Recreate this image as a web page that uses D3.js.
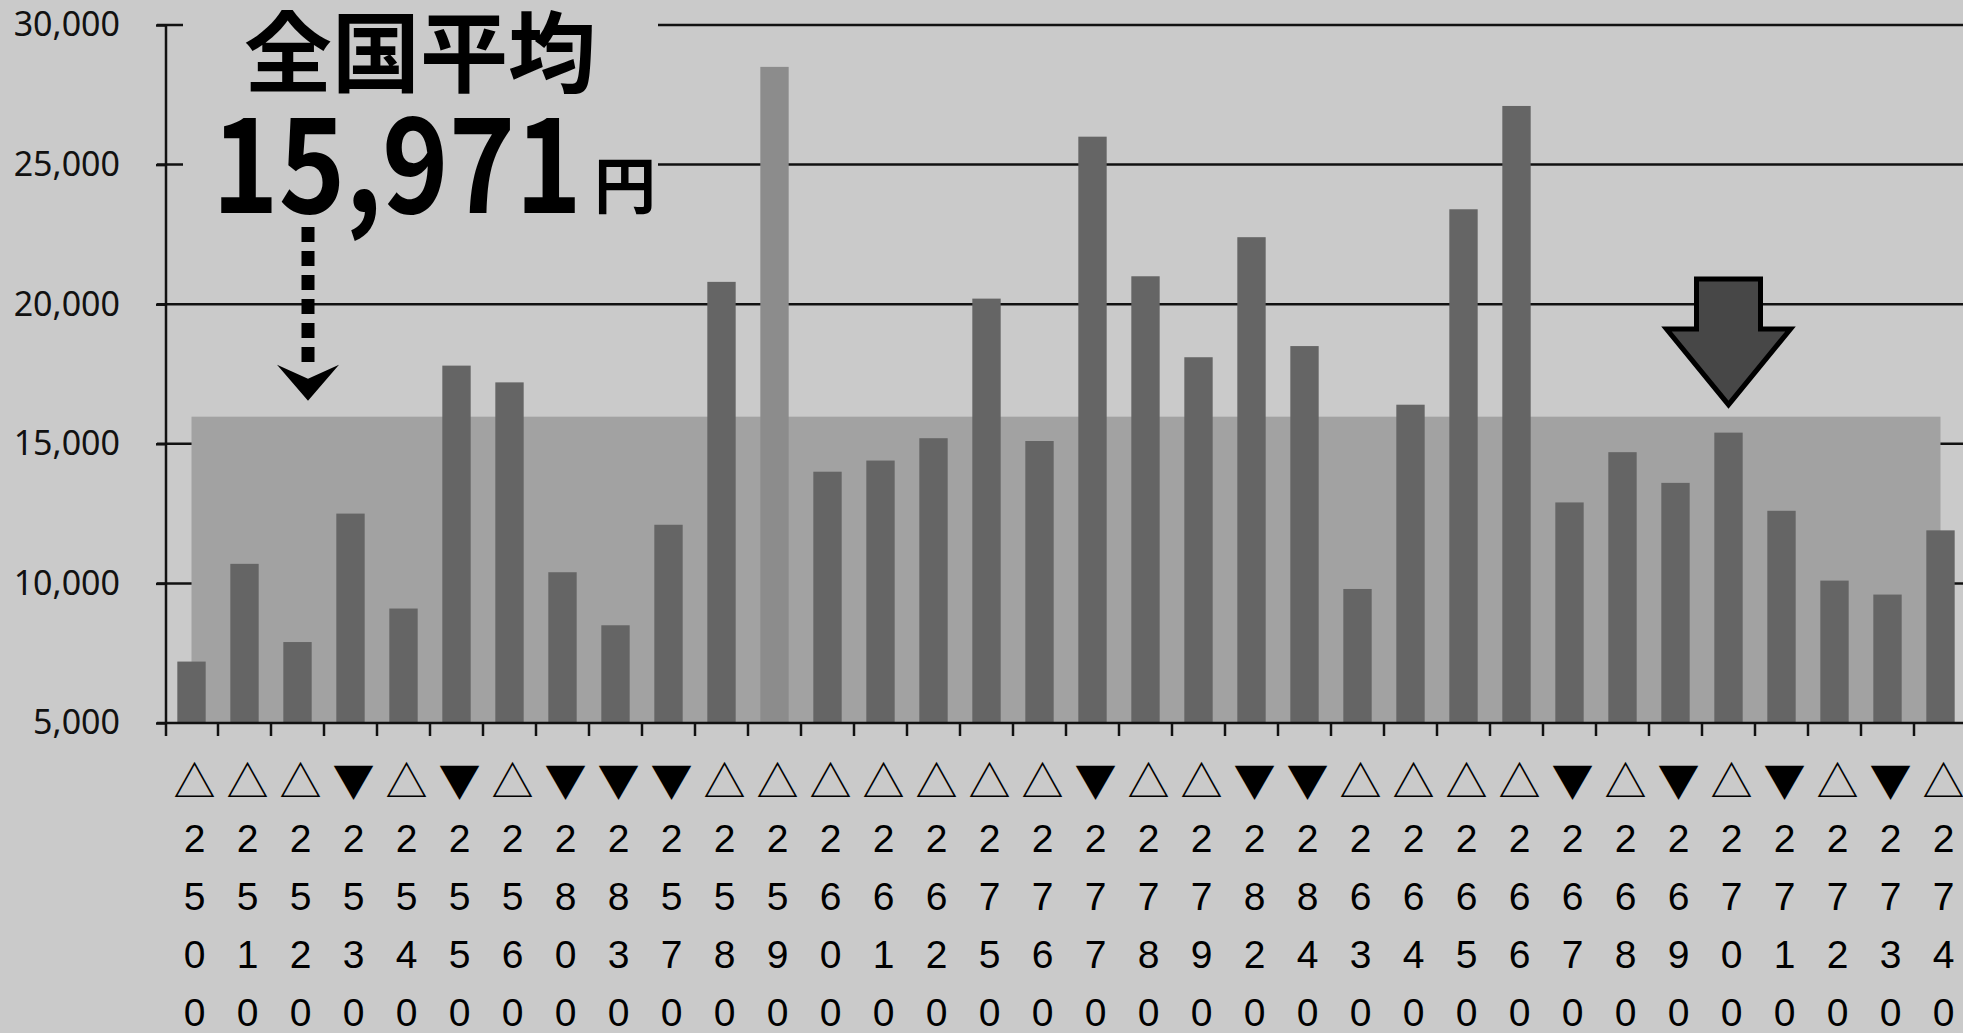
<!DOCTYPE html>
<html>
<head>
<meta charset="utf-8">
<script src="https://cdn.jsdelivr.net/npm/d3@7"></script>
<style>
  html, body { margin: 0; padding: 0; background: #cacaca; }
  svg { display: block; }
</style>
</head>
<body>
<div id="chart"></div>
<script>
// data
const categories = ["2500","2510","2520","2530","2540","2550","2560","2800","2830","2570","2580","2590","2600","2610","2620","2750","2760","2770","2780","2790","2820","2840","2630","2640","2650","2660","2670","2680","2690","2700","2710","2720","2730","2740"]
const values = [7200, 10700, 7900, 12500, 9100, 17800, 17200, 10400, 8500, 12100, 20800, 28500, 14000, 14400, 15200, 20200, 15100, 26000, 21000, 18100, 22400, 18500, 9800, 16400, 23400, 27100, 12900, 14700, 13600, 15400, 12600, 10100, 9600, 11900]
const trend = ["up","up","up","down","up","down","up","down","down","down","up","up","up","up","up","up","up","down","up","up","down","down","up","up","up","up","down","up","down","up","down","up","down","up"]
const yTicks = [5000, 10000, 15000, 20000, 25000, 30000]
const nationalAvg = 15971
const highlightCat = "2590"
const markedCat = "2700"

const width = 1963, height = 1033
const bg = "#cacaca"

const svg = d3.select("#chart")
    .append("svg")
    .attr("width", width)
    .attr("height", height)

svg.append("rect").attr("width", width).attr("height", height).attr("fill", bg)

const x = d3.scaleBand()
    .domain(categories)
    .range([165, 1967])
    .paddingInner(0.465)
    .paddingOuter(0.2325)

const y = d3.scaleLinear()
    .domain([5000, 30000])
    .range([723, 25])

const cx = d => x(d) + x.bandwidth() / 2

// gridlines
svg.append("g")
    .selectAll("line")
    .data(yTicks.slice(1))
    .enter()
    .append("line")
    .attr("x1", 157).attr("x2", width)
    .attr("y1", d => y(d)).attr("y2", d => y(d))
    .attr("stroke", "#111")
    .attr("stroke-width", 2.5)

// national average band, from first bar centre to last bar centre
svg.append("rect")
    .attr("x", cx(categories[0]))
    .attr("y", y(nationalAvg))
    .attr("width", cx(categories[categories.length - 1]) - cx(categories[0]))
    .attr("height", y(5000) - y(nationalAvg))
    .attr("fill", "#a2a2a2")

// bars
svg.append("g")
    .selectAll("rect")
    .data(categories)
    .enter()
    .append("rect")
    .attr("x", d => x(d))
    .attr("y", (d, i) => y(values[i]))
    .attr("width", x.bandwidth())
    .attr("height", (d, i) => y(5000) - y(values[i]))
    .attr("fill", d => d === highlightCat ? "#8c8c8c" : "#656565")

// axes
const yAxis = d3.axisLeft(y).tickValues(yTicks).tickSize(10).tickPadding(36).tickFormat(d3.format(","))
const gy = svg.append("g").attr("transform", "translate(166,0)").call(yAxis)
gy.select(".domain").remove()
gy.selectAll(".tick line").attr("stroke", "#111").attr("stroke-width", 2.5)
gy.selectAll("text")
    .attr("font-family", "'Noto Sans', sans-serif")
    .attr("font-size", 34)
    .attr("fill", "#111")

svg.append("line")
    .attr("x1", 166).attr("x2", 166)
    .attr("y1", y(30000)).attr("y2", 736)
    .attr("stroke", "#111").attr("stroke-width", 2.5)

const xTicks = categories.map(d => x(d) - x.step() * x.paddingInner() / 2)
svg.append("line")
    .attr("x1", 157).attr("x2", width)
    .attr("y1", y(5000)).attr("y2", y(5000))
    .attr("stroke", "#111").attr("stroke-width", 2.5)
svg.append("g")
    .selectAll("line")
    .data(xTicks.slice(1))
    .enter()
    .append("line")
    .attr("x1", d => d).attr("x2", d => d)
    .attr("y1", y(5000)).attr("y2", y(5000) + 13)
    .attr("stroke", "#111").attr("stroke-width", 2.5)

// category labels: up/down mark then digits stacked vertically
const labels = svg.append("g")
    .selectAll("g")
    .data(categories)
    .enter()
    .append("g")
    .attr("transform", d => `translate(${cx(d) + 3},0)`)

labels.append("text")
    .attr("y", 778)
    .attr("text-anchor", "middle")
    .attr("dominant-baseline", "central")
    .attr("font-family", "'Noto Sans CJK JP', sans-serif")
    .attr("font-size", 42)
    .attr("fill", "#000")
    .text((d, i) => trend[i] === "up" ? "△" : "▼")

labels.each(function (d) {
    const g = d3.select(this)
    d.split("").forEach((ch, k) => {
        g.append("text")
            .attr("y", 852 + k * 58)
            .attr("text-anchor", "middle")
            .attr("font-family", "'Liberation Sans', Arial, sans-serif")
            .attr("font-size", 39)
            .attr("fill", "#000")
            .text(ch)
    })
})

// text box that hides the top gridlines
svg.append("rect")
    .attr("x", 183).attr("y", 0)
    .attr("width", 475).attr("height", 232)
    .attr("fill", bg)

svg.append("text")
    .attr("x", 420).attr("y", 46)
    .attr("text-anchor", "middle")
    .attr("dominant-baseline", "central")
    .attr("font-family", "'Noto Sans CJK JP', sans-serif")
    .attr("font-weight", 700)
    .attr("font-size", 88)
    .attr("fill", "#000")
    .text("全国平均")

svg.append("text")
    .attr("x", 212).attr("y", 213)
    .attr("font-family", "'Noto Sans CJK JP', sans-serif")
    .attr("font-weight", 700)
    .attr("font-size", 132)
    .attr("textLength", 370)
    .attr("lengthAdjust", "spacingAndGlyphs")
    .attr("fill", "#000")
    .text(d3.format(",")(nationalAvg))

svg.append("text")
    .attr("x", 625).attr("y", 182)
    .attr("text-anchor", "middle")
    .attr("dominant-baseline", "central")
    .attr("font-family", "'Noto Sans CJK JP', sans-serif")
    .attr("font-weight", 700)
    .attr("font-size", 62)
    .attr("fill", "#000")
    .text("円")

// dashed pointer down to the average band
const ax = 308
svg.append("line")
    .attr("x1", ax).attr("x2", ax)
    .attr("y1", 227).attr("y2", 366)
    .attr("stroke", "#000")
    .attr("stroke-width", 13)
    .attr("stroke-dasharray", "15 9")
svg.append("path")
    .attr("d", `M${ax - 31},${y(nationalAvg) - 52} L${ax},${y(nationalAvg) - 38} L${ax + 31},${y(nationalAvg) - 52} L${ax},${y(nationalAvg) - 16} Z`)
    .attr("fill", "#000")

// big block arrow over the marked bar
const bx = cx(markedCat)
const tipY = y(nationalAvg) - 12
svg.append("path")
    .attr("d", `M${bx - 32},279 L${bx + 32},279 L${bx + 32},329 L${bx + 62},329 L${bx},${tipY} L${bx - 62},329 L${bx - 32},329 Z`)
    .attr("fill", "#474747")
    .attr("stroke", "#000")
    .attr("stroke-width", 5)
    .attr("stroke-linejoin", "miter")
</script>
</body>
</html>
